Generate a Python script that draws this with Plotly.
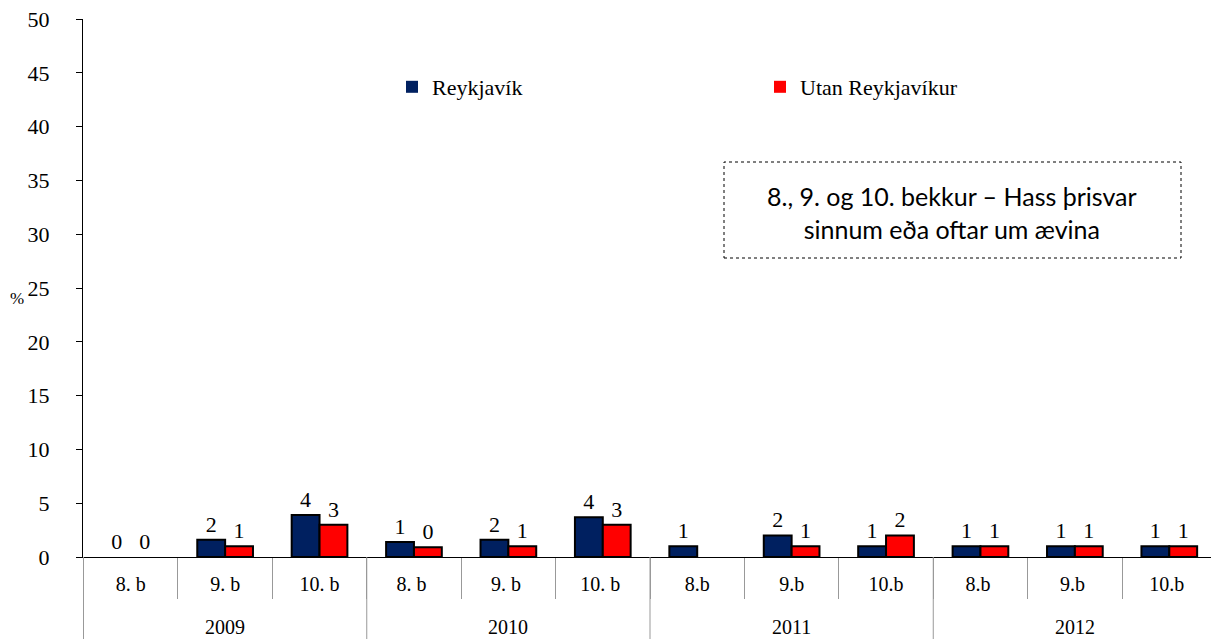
import plotly.graph_objects as go

# Data
years = ["2009", "2010", "2011", "2012"]
grades = ["8. b", "9. b", "10. b", "8. b ", "9. b ", "10. b ",
          "8.b", "9.b", "10.b", "8.b ", "9.b ", "10.b "]

reykjavik = [0, 1.6, 3.9, 1.4, 1.6, 3.7, 1.0, 2.0, 1.0, 1.0, 1.0, 1.0]
utan = [0, 1.0, 3.0, 0.9, 1.0, 3.0, 0, 1.0, 2.0, 1.0, 1.0, 1.0]

reykjavik_labels = ["0", "2", "4", "1", "2", "4", "1", "2", "1", "1", "1", "1"]
utan_labels = ["0", "1", "3", "0", "1", "3", "", "1", "2", "1", "1", "1"]

serif = "Liberation Serif"
# page body has an 8px margin, so the figure is shifted by 8px
off = 8
L, T, B, R = 83, 19, 82, 2
pw = 1219 - L - R
ph = 639 - T - B

fig = go.Figure()
for name, vals, labs, col in [("Reykjavík", reykjavik, reykjavik_labels, "#002060"),
                              ("Utan Reykjavíkur", utan, utan_labels, "#FF0000")]:
    fig.add_trace(go.Bar(x=grades, y=vals, name=name,
                         marker=dict(color=col, line=dict(color="black",
                                                          width=[2 if v > 0 else 0 for v in vals])),
                         text=labs, textposition="outside",
                         textfont=dict(family=serif, size=22, color="black"),
                         cliponaxis=False))

fig.update_layout(
    width=1219 - off, height=639 - off,
    margin=dict(l=L - off, r=R, t=T - off, b=B, autoexpand=False),
    plot_bgcolor="white", paper_bgcolor="white",
    barmode="group", bargap=0.41, bargroupgap=0,
    font=dict(family=serif, size=20, color="black"),
    legend=dict(orientation="h", x=(392 - L) / pw, y=(557 - 87) / ph,
                xanchor="left", yanchor="middle",
                entrywidth=323, entrywidthmode="pixels",
                font=dict(family=serif, size=22, color="black"), itemwidth=30,
                bgcolor="rgba(0,0,0,0)"),
    showlegend=True,
)

fig.update_yaxes(range=[0, 50], dtick=5, showline=True, linecolor="black", linewidth=1,
                 ticks="outside", ticklen=6, tickcolor="black", showgrid=False,
                 zeroline=False, tickfont=dict(family=serif, size=22, color="black"),
                 automargin=False, ticklabelstandoff=22, ticklabeloverflow="allow")

fig.update_xaxes(showline=True, linecolor="black", linewidth=1,
                 ticks="outside", tickson="boundaries", ticklen=41, tickcolor="#999999",
                 tickfont=dict(family=serif, size=20, color="black"), showgrid=False,
                 automargin=False, ticklabelstandoff=9)

# year row: dividers and labels
for i, yr in enumerate(years):
    fig.add_shape(type="line", xref="x", yref="paper", x0=3 * i - 0.5, x1=3 * i - 0.5,
                  y0=0, y1=-B / ph, line=dict(color="#999999", width=1))
    fig.add_annotation(xref="x", yref="paper", x=grades[3 * i + 1], y=-70 / ph,
                       text=yr, showarrow=False, xanchor="center", yanchor="middle",
                       font=dict(family=serif, size=20, color="black"))
fig.add_shape(type="line", xref="x", yref="paper", x0=len(grades) - 0.5, x1=len(grades) - 0.5,
              y0=0, y1=-B / ph, line=dict(color="#999999", width=1))

# % label
fig.add_annotation(xref="paper", yref="paper", x=(17 - L) / pw, y=(557 - 298) / ph,
                   text="%", showarrow=False, xanchor="center", yanchor="middle",
                   font=dict(family=serif, size=17, color="black"))

# text box with dotted border
fig.add_shape(type="rect", xref="paper", yref="paper",
              x0=(724 - L) / pw, x1=(1181 - L) / pw,
              y0=(557 - 258) / ph, y1=(557 - 162) / ph,
              line=dict(color="black", width=1, dash="dot"))
fig.add_annotation(xref="paper", yref="paper", x=(952 - L) / pw, y=(557 - 212) / ph,
                   text="8., 9. og 10. bekkur – Hass þrisvar<br>sinnum eða oftar um ævina",
                   showarrow=False, align="center", xanchor="center", yanchor="middle",
                   font=dict(family="Lato", size=25, color="black"))

fig.write_html("out.html")
